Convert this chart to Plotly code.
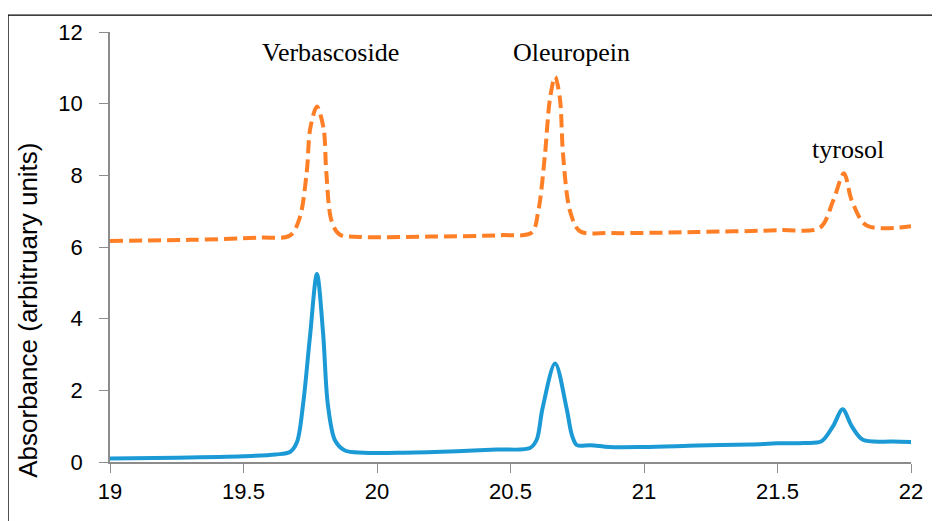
import plotly.graph_objects as go

# Retention time (min) and absorbance values
blue_x = [19.00, 19.25, 19.50, 19.62, 19.674, 19.70, 19.723, 19.749, 19.775, 19.798, 19.816, 19.843,
          19.88, 19.95, 20.10, 20.30, 20.45, 20.573, 20.598, 20.62, 20.667, 20.71, 20.73, 20.749,
          20.80, 20.87, 21.00, 21.20, 21.40, 21.50, 21.60, 21.665, 21.708, 21.744, 21.778, 21.82,
          21.93, 22.00]
blue_y = [0.10, 0.12, 0.16, 0.21, 0.28, 0.55, 1.6, 3.5, 5.25, 3.6, 1.6, 0.6,
          0.32, 0.26, 0.26, 0.30, 0.35, 0.39, 0.62, 1.5, 2.75, 1.5, 0.75, 0.47,
          0.47, 0.42, 0.42, 0.46, 0.49, 0.52, 0.53, 0.58, 1.0, 1.47, 1.0, 0.62,
          0.57, 0.56]

orange_x = [19.00, 19.30, 19.56, 19.674, 19.71, 19.737, 19.75, 19.775, 19.80, 19.81, 19.83, 19.86,
            19.936, 20.20, 20.46, 20.579, 20.604, 20.629, 20.648, 20.667, 20.685, 20.697, 20.723,
            20.76, 20.873, 21.20, 21.51, 21.659, 21.709, 21.749, 21.778, 21.834, 22.00]
orange_y = [6.17, 6.20, 6.26, 6.32, 6.8, 8.1, 9.31, 9.92, 9.31, 8.1, 6.72, 6.35,
            6.28, 6.29, 6.33, 6.40, 7.0, 8.57, 10.15, 10.75, 10.15, 8.57, 7.0,
            6.44, 6.39, 6.42, 6.47, 6.54, 7.3, 8.06, 7.3, 6.6, 6.58]

peak_names = ["Verbascoside", "Oleuropein", "tyrosol"]
peak_label_x = [19.824, 20.727, 21.764]
peak_label_y = [11.44, 11.44, 8.72]

x_ticks = [19, 19.5, 20, 20.5, 21, 21.5, 22]
x_tick_text = ["19", "19.5", "20", "20.5", "21", "21.5", "22"]
y_ticks = [0, 2, 4, 6, 8, 10, 12]

fig = go.Figure()
fig.add_trace(go.Scatter(x=orange_x, y=orange_y, mode="lines",
                         line=dict(color="#FF7F27", width=4, dash="13px,6px",
                                   shape="spline", smoothing=0.9),
                         showlegend=False, hoverinfo="skip"))
fig.add_trace(go.Scatter(x=blue_x, y=blue_y, mode="lines",
                         line=dict(color="#1B9AD6", width=4, shape="spline", smoothing=0.9),
                         showlegend=False, hoverinfo="skip"))

for name, lx, ly in zip(peak_names, peak_label_x, peak_label_y):
    fig.add_annotation(x=lx, y=ly, text=name, showarrow=False,
                       xanchor="center", yanchor="middle",
                       font=dict(family="Liberation Serif", size=26, color="#000000"))

fig.add_annotation(xref="paper", yref="paper", x=-0.1024, y=0.354,
                   xanchor="center", yanchor="middle",
                   text="Absorbance (arbitruary units)", textangle=-90, showarrow=False,
                   font=dict(family="Liberation Sans", size=26, color="#000000"))

# outer chart border (right and bottom edges fall outside the view)
fig.add_shape(type="rect", xref="paper", yref="paper",
              x0=-0.1273, y0=-0.16, x1=1.1, y1=1.0394,
              line=dict(color="#000000", width=1.3), fillcolor="rgba(0,0,0,0)")

axis_common = dict(showgrid=False, zeroline=False, showline=True, linecolor="#8C8C8C",
                   linewidth=1.5, ticks="outside", ticklen=9, tickcolor="#8C8C8C",
                   tickwidth=1.3, tickfont=dict(family="Liberation Sans", size=22, color="#000000"))

fig.update_xaxes(range=[19, 22], tickvals=x_ticks, ticktext=x_tick_text, **axis_common)
fig.update_yaxes(range=[0, 12], tickvals=y_ticks, ticklabelstandoff=12, **axis_common)

fig.update_layout(width=940, height=521, margin=dict(l=102, r=37, t=22, b=67),
                  plot_bgcolor="white", paper_bgcolor="white")

fig.write_html("out.html")
